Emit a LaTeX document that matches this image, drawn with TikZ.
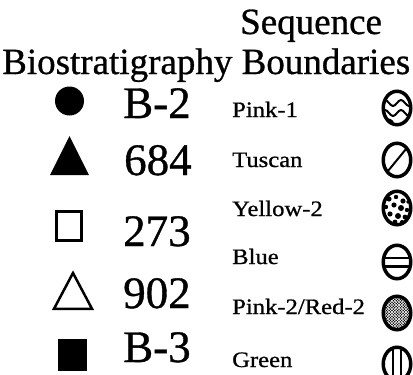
\documentclass[tikz,border=0pt]{standalone}
\usepackage{fontspec}
\setmainfont{Liberation Serif}
\newfontface\inkserif{Liberation Serif}[FakeBold=0.8]
\usetikzlibrary{shapes.geometric,patterns}

% dense stipple used for the Pink-2/Red-2 symbol
\pgfdeclarepatternformonly{stipple}{\pgfqpoint{-1pt}{-1pt}}{\pgfqpoint{2pt}{2pt}}%
  {\pgfqpoint{2.8pt}{2.8pt}}%
  {\pgfpathcircle{\pgfqpoint{0pt}{0pt}}{0.85pt}\pgfusepath{fill}%
   \pgfpathcircle{\pgfqpoint{1.4pt}{1.4pt}}{0.85pt}\pgfusepath{fill}}

\tikzset{
  heading/.style={font=\inkserif\fontsize{37}{40}\selectfont, anchor=base west, inner sep=0pt},
  sitecode/.style={font=\inkserif\fontsize{45}{48}\selectfont, anchor=base west, inner sep=0pt},
  unitname/.style={font=\inkserif\fontsize{22}{24}\selectfont, anchor=base west, inner sep=0pt},
  marker/.style={inner sep=0pt, outer sep=0pt},
  boundary/.style={ellipse, draw, line width=3.5pt, minimum width=27.5pt,
                   minimum height=33.5pt, inner sep=0pt},
}

\begin{document}
\begin{tikzpicture}[x=1pt, y=-1pt]
\useasboundingbox (0,0) rectangle (413,375);

% column headings
\node[heading] (hseq) at (240,34) {Sequence};
\node[heading] (hbio) at (2,74) {Biostratigraphy Boundaries};

% biostratigraphy markers
\node[marker, circle, fill, minimum size=29pt] (m1) at (69.5,101) {};
\fill (69.5,136) coordinate (m2) -- (89,175) -- (50,175) -- cycle;
\node[marker, rectangle, draw, line width=2.6pt, minimum width=25.5pt,
      minimum height=29pt] (m3) at (69,226) {};
\draw[line width=2.5pt, line join=miter] (73,273) coordinate (m4)
      -- (92,308.8) -- (54,308.8) -- cycle;
\node[marker, rectangle, fill, minimum width=29pt, minimum height=32pt]
      (m5) at (72.5,355) {};

% site codes
\node[sitecode] (c1) at (123,118) {B-2};
\node[sitecode] (c2) at (124,175) {684};
\node[sitecode] (c3) at (123,246) {273};
\node[sitecode] (c4) at (123,308) {902};
\node[sitecode] (c5) at (123,362) {B-3};

% sequence boundary names
\node[unitname] (u1) at (232,117) {\scalebox{1.12}[1]{Pink-1}};
\node[unitname] (u2) at (232,167) {\scalebox{1.12}[1]{Tuscan}};
\node[unitname] (u3) at (232,216) {\scalebox{1.12}[1]{Yellow-2}};
\node[unitname] (u4) at (232,264) {\scalebox{1.12}[1]{Blue}};
\node[unitname] (u5) at (232,314) {\scalebox{1.12}[1]{Pink-2/Red-2}};
\node[unitname] (u6) at (232,367) {\scalebox{1.12}[1]{Green}};

% sequence boundary symbols
\node[boundary, path picture={
    \begin{scope}[shift={(path picture bounding box.center)}, line width=2pt]
      \draw (-16,-5) sin (-12,-8) cos (-8,-5) sin (-4,-2) cos (0,-5)
            sin (4,-8) cos (8,-5) sin (12,-2) cos (16,-5);
      \draw (-16,5) sin (-12,2) cos (-8,5) sin (-4,8) cos (0,5)
            sin (4,2) cos (8,5) sin (12,8) cos (16,5);
      \draw (-16,14) sin (-10,11) cos (-4,14);
    \end{scope}}] (s1) at (397,108) {};
\node[boundary, path picture={
    \draw[line width=2pt] (path picture bounding box.south west)
          -- (path picture bounding box.north east);}] (s2) at (397,160) {};
\node[boundary, path picture={
    \begin{scope}[shift={(path picture bounding box.center)}]
      \foreach \px/\py/\r in {-8/-9/2.6, -1/-11/2.2, 6/-7/2.6, -11/-1/2.2,
          -3/-3/2.6, 4/0/3, 10/2/2.2, -7/6/2.6, 1/8/3, 8/9/2.4,
          -2/14/2.4, -12/9/2, 11/-6/1.8, 5/14/2}
        \fill (\px,\py) circle (\r);
    \end{scope}}] (s3) at (397,208) {};
\node[boundary, path picture={
    \begin{scope}[shift={(path picture bounding box.center)}]
      \draw[line width=2pt] (-16,-4) -- (16,-4);
      \draw[line width=3pt] (-16,4) -- (16,4);
    \end{scope}}] (s4) at (397,262) {};
\node[boundary, pattern=stipple] (s5) at (397,313) {};
\node[boundary, path picture={
    \begin{scope}[shift={(path picture bounding box.center)}]
      \draw[line width=2.6pt] (-4,-20) -- (-4,20);
      \draw[line width=2.6pt] (4,-20) -- (4,20);
    \end{scope}}] (s6) at (397,364) {};
\end{tikzpicture}
\end{document}
